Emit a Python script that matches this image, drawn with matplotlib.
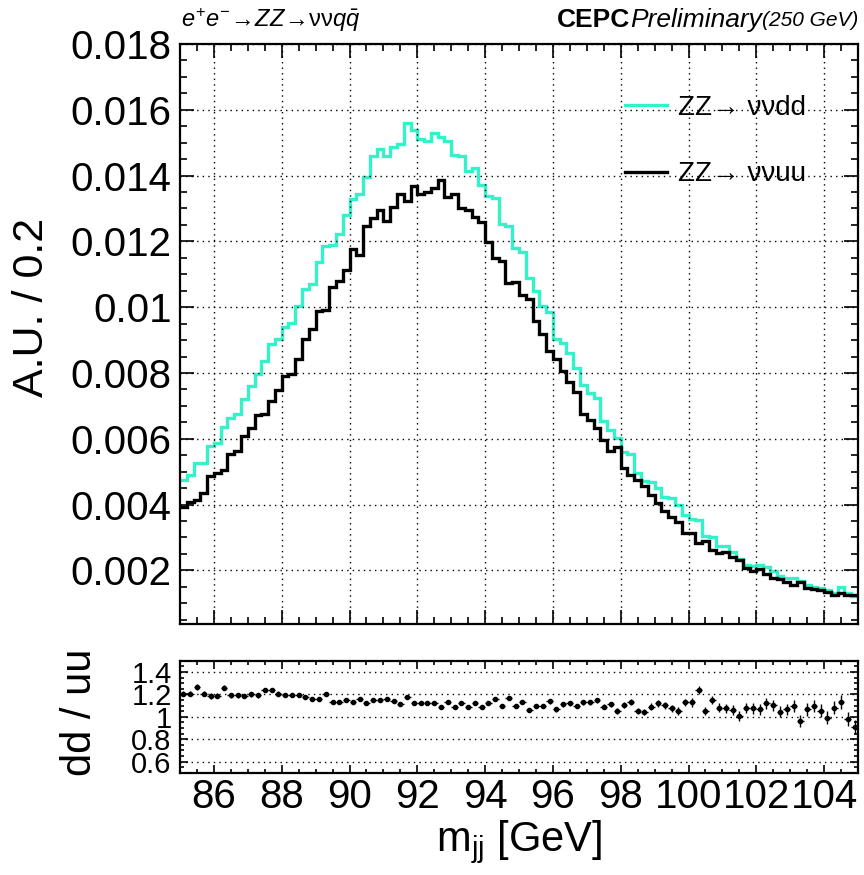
import matplotlib
matplotlib.use("Agg")
import matplotlib.pyplot as plt
import numpy as np

plt.rcParams['font.family'] = ['Liberation Sans', 'DejaVu Sans']
plt.rcParams['mathtext.fontset'] = 'custom'
plt.rcParams['mathtext.rm'] = 'Liberation Sans'
plt.rcParams['mathtext.it'] = 'Liberation Sans:italic'
plt.rcParams['mathtext.bf'] = 'Liberation Sans:bold'

################################################################################

# binning: 85 - 105 GeV, 0.2 GeV per bin
x_lo, x_hi, bin_w = 85.0, 105.0, 0.2

# ZZ -> vvdd (cyan)
dd = [0.00476, 0.00491, 0.00525, 0.00527, 0.00578, 0.00588, 0.00636, 0.00664, 0.00676, 0.00720,
      0.00760, 0.00796, 0.00836, 0.00887, 0.00903, 0.00940, 0.00951, 0.01004, 0.01055, 0.01072,
      0.01138, 0.01185, 0.01189, 0.01222, 0.01281, 0.01330, 0.01344, 0.01395, 0.01459, 0.01481,
      0.01460, 0.01487, 0.01495, 0.01560, 0.01539, 0.01512, 0.01506, 0.01530, 0.01516, 0.01506,
      0.01462, 0.01460, 0.01414, 0.01424, 0.01372, 0.01338, 0.01333, 0.01252, 0.01247, 0.01180,
      0.01168, 0.01089, 0.01049, 0.01003, 0.00985, 0.00902, 0.00891, 0.00861, 0.00815, 0.00764,
      0.00739, 0.00724, 0.00653, 0.00627, 0.00602, 0.00561, 0.00555, 0.00497, 0.00473, 0.00470,
      0.00450, 0.00424, 0.00419, 0.00399, 0.00369, 0.00355, 0.00353, 0.00305, 0.00301, 0.00274,
      0.00274, 0.00257, 0.00234, 0.00216, 0.00213, 0.00216, 0.00209, 0.00199, 0.00183, 0.00176,
      0.00176, 0.00169, 0.00155, 0.00150, 0.00145, 0.00140, 0.00132, 0.00150, 0.00130, 0.00122]

# ZZ -> vvuu (black)
uu = [0.00393, 0.00407, 0.00415, 0.00436, 0.00486, 0.00496, 0.00505, 0.00555, 0.00562, 0.00608,
      0.00633, 0.00671, 0.00676, 0.00715, 0.00748, 0.00791, 0.00796, 0.00842, 0.00903, 0.00933,
      0.00989, 0.00992, 0.01060, 0.01080, 0.01114, 0.01177, 0.01158, 0.01248, 0.01271, 0.01294,
      0.01262, 0.01306, 0.01345, 0.01323, 0.01368, 0.01345, 0.01349, 0.01361, 0.01388, 0.01335,
      0.01343, 0.01303, 0.01295, 0.01275, 0.01260, 0.01198, 0.01150, 0.01140, 0.01074, 0.01076,
      0.01036, 0.01025, 0.00957, 0.00917, 0.00866, 0.00843, 0.00805, 0.00772, 0.00741, 0.00676,
      0.00658, 0.00633, 0.00597, 0.00564, 0.00575, 0.00510, 0.00490, 0.00475, 0.00455, 0.00429,
      0.00404, 0.00379, 0.00363, 0.00348, 0.00315, 0.00313, 0.00282, 0.00290, 0.00262, 0.00252,
      0.00257, 0.00242, 0.00231, 0.00206, 0.00199, 0.00203, 0.00189, 0.00176, 0.00173, 0.00165,
      0.00155, 0.00165, 0.00145, 0.00142, 0.00140, 0.00135, 0.00125, 0.00130, 0.00125, 0.00125]

# dd / uu ratio points and their errors
ratio = [1.207, 1.207, 1.267, 1.207, 1.184, 1.187, 1.258, 1.193, 1.193, 1.184,
         1.199, 1.190, 1.237, 1.237, 1.207, 1.193, 1.193, 1.193, 1.172, 1.154,
         1.154, 1.199, 1.127, 1.133, 1.148, 1.133, 1.157, 1.119, 1.145, 1.145,
         1.157, 1.139, 1.113, 1.178, 1.124, 1.124, 1.124, 1.124, 1.089, 1.127,
         1.089, 1.124, 1.089, 1.119, 1.089, 1.119, 1.157, 1.095, 1.163, 1.095,
         1.127, 1.059, 1.095, 1.095, 1.136, 1.065, 1.110, 1.119, 1.095, 1.127,
         1.127, 1.148, 1.089, 1.110, 1.053, 1.101, 1.133, 1.053, 1.044, 1.089,
         1.119, 1.101, 1.074, 1.053, 1.127, 1.127, 1.237, 1.053, 1.148, 1.080,
         1.074, 1.059, 1.006, 1.080, 1.074, 1.065, 1.119, 1.104, 1.044, 1.065,
         1.095, 0.961, 1.065, 1.095, 1.053, 0.991, 1.080, 1.133, 0.976, 0.905]

ratio_err = [0.026, 0.026, 0.025, 0.025, 0.024, 0.024, 0.023, 0.022, 0.022, 0.021,
             0.021, 0.020, 0.020, 0.019, 0.019, 0.018, 0.018, 0.018, 0.017, 0.017,
             0.017, 0.016, 0.016, 0.016, 0.016, 0.015, 0.015, 0.015, 0.015, 0.015,
             0.015, 0.015, 0.014, 0.014, 0.014, 0.014, 0.014, 0.014, 0.014, 0.014,
             0.015, 0.015, 0.015, 0.015, 0.015, 0.015, 0.016, 0.016, 0.016, 0.017,
             0.017, 0.017, 0.018, 0.018, 0.019, 0.019, 0.020, 0.020, 0.021, 0.022,
             0.022, 0.023, 0.024, 0.025, 0.025, 0.026, 0.027, 0.028, 0.029, 0.030,
             0.031, 0.032, 0.033, 0.034, 0.035, 0.036, 0.037, 0.038, 0.039, 0.040,
             0.041, 0.042, 0.044, 0.045, 0.046, 0.047, 0.048, 0.049, 0.050, 0.052,
             0.053, 0.054, 0.055, 0.056, 0.057, 0.058, 0.060, 0.061, 0.062, 0.063]

y_ticks = [0.002, 0.004, 0.006, 0.008, 0.010, 0.012, 0.014, 0.016, 0.018]
y_ticklabels = ["0.002", "0.004", "0.006", "0.008", "0.01", "0.012", "0.014", "0.016", "0.018"]
r_ticks = [0.6, 0.8, 1.0, 1.2, 1.4]
r_ticklabels = ["0.6", "0.8", "1", "1.2", "1.4"]
x_ticks = [86, 88, 90, 92, 94, 96, 98, 100, 102, 104]

################################################################################

edges = x_lo + bin_w * np.arange(len(dd) + 1)
centers = 0.5 * (edges[:-1] + edges[1:])

cyan = "#33f2c9"
W, H = 864, 875

fig = plt.figure(figsize=(W / 100, H / 100), dpi=100)
ax = fig.add_axes([180 / W, 1 - 624 / H, 678 / W, 580 / H])
ax2 = fig.add_axes([180 / W, 1 - 772.7 / H, 678 / W, 112 / H])

for a in (ax, ax2):
    for s in a.spines.values():
        s.set_linewidth(1.6)
    a.tick_params(which="both", direction="in", top=True, right=True, width=1.2)
    a.tick_params(which="major", length=10)
    a.tick_params(which="minor", length=5)
    a.set_xlim(x_lo, x_hi)
    a.set_xticks(x_ticks)
    a.set_xticks(np.arange(x_lo, x_hi + 0.01, 0.5), minor=True)

# main panel
ax.stairs(dd, edges, color=cyan, linewidth=2.4, baseline=None, label="ZZ→ ννdd")
ax.stairs(uu, edges, color="black", linewidth=2.4, baseline=None, label="ZZ→ ννuu")
ax.set_ylim(0.00037, 0.018)
ax.set_yticks(y_ticks)
ax.set_yticklabels(y_ticklabels)
ax.set_yticks(np.arange(0.0005, 0.018, 0.0005), minor=True)
ax.tick_params(axis="x", labelbottom=False)
ax.tick_params(axis="y", labelsize=29, pad=6)
ax.grid(True, which="major", color="black", linestyle=(0, (1, 3)), linewidth=1.0)

leg = ax.legend(loc="upper left", bbox_to_anchor=(0.62, 0.955), frameon=False,
                fontsize=20, handlelength=1.5, handletextpad=0.4, labelspacing=1.45)

# ratio panel
ax2.errorbar(centers, ratio, yerr=ratio_err, xerr=bin_w / 2, fmt="o", color="black",
             ms=3.0, elinewidth=1.0, capsize=0)
ax2.set_ylim(0.5, 1.5)
ax2.set_yticks(r_ticks)
ax2.set_yticklabels(r_ticklabels)
ax2.set_yticks(np.arange(0.5, 1.5001, 0.05), minor=True)
ax2.tick_params(axis="y", labelsize=21, pad=6)
ax2.tick_params(axis="x", labelsize=29, pad=4)
ax2.tick_params(which="major", length=6)
ax2.tick_params(which="minor", length=3)
ax2.grid(True, which="major", axis="y", color="black", linestyle=(0, (1, 3)), linewidth=1.0)

# axis titles
fig.text(32 / W, 1 - 307 / H, "A.U. / 0.2", rotation=90, ha="center", va="center", fontsize=31)
fig.text(80 / W, 1 - 712 / H, "dd / uu", rotation=90, ha="center", va="center", fontsize=30)
fig.text(519 / W, 1 - 842 / H, r"m$_{\mathrm{jj}}$ [GeV]", ha="center", va="center", fontsize=30)

# header texts
fig.text(181 / W, 1 - 20 / H, r"$e^{+}e^{-}\!\rightarrow\! ZZ\!\rightarrow\! \mathrm{\nu\nu} q\bar{q}$",
         ha="left", va="center", fontsize=17)
t3 = fig.text(858 / W, 1 - 20 / H, "(250 GeV)", ha="right", va="center", fontsize=15, style="italic")
fig.canvas.draw()
r = fig.canvas.get_renderer()
bb = t3.get_window_extent(r)
t2 = fig.text(bb.x0 / W, 1 - 20 / H, "Preliminary", ha="right", va="center", fontsize=19, style="italic")
bb = t2.get_window_extent(r)
fig.text(bb.x0 / W, 1 - 20 / H, "CEPC", ha="right", va="center", fontsize=19, weight="bold")

fig.savefig("out.png", dpi=100)
